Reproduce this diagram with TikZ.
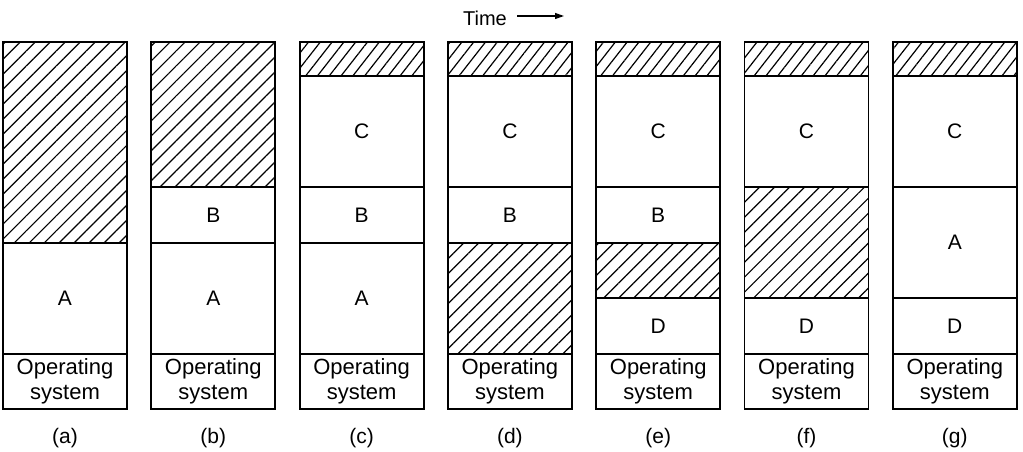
\documentclass[tikz,border=0pt]{standalone}
\usepackage{fontspec}
\setmainfont{Liberation Sans}
\usetikzlibrary{patterns.meta,arrows.meta}
\begin{document}
\begin{tikzpicture}[x=1pt,y=-1pt,
  seg/.style={draw, line width=1.8pt, minimum width=124pt, anchor=north west,
    inner sep=0pt, outer sep=0pt, font=\fontsize{21}{25}\selectfont, align=center},
  os/.style={seg, font=\fontsize{22}{25}\selectfont},
  free/.style={seg, pattern={Lines[angle=45,distance=10.6pt,line width=1.2pt]}, pattern color=black},
  freetop/.style={seg, pattern={Lines[angle=52,distance=9.3pt,line width=1.2pt]}, pattern color=black},
  lbl/.style={font=\fontsize{21}{25}\selectfont, inner sep=0pt},
  timearrow/.style={line width=1.2pt, -{Triangle[length=9pt,width=6pt]}}]
\useasboundingbox (0,0) rectangle (1023,452);
\foreach \n/\col/\t/\b/\k/\txt in {
  a1/0/42/243/free/{}, a2/0/243/354/seg/A, a3/0/354/409/os/{Operating\\system},
  b1/1/42/187/free/{}, b2/1/187/243/seg/B, b3/1/243/354/seg/A, b4/1/354/409/os/{Operating\\system},
  c1/2/42/76/freetop/{}, c2/2/76/187/seg/C, c3/2/187/243/seg/B, c4/2/243/354/seg/A, c5/2/354/409/os/{Operating\\system},
  d1/3/42/76/freetop/{}, d2/3/76/187/seg/C, d3/3/187/243/seg/B, d4/3/243/354/free/{}, d5/3/354/409/os/{Operating\\system},
  e1/4/42/76/freetop/{}, e2/4/76/187/seg/C, e3/4/187/243/seg/B, e4/4/243/298/free/{}, e5/4/298/354/seg/D, e6/4/354/409/os/{Operating\\system},
  f1/5/42/76/freetop/{}, f2/5/76/187/seg/C, f3/5/187/298/free/{}, f4/5/298/354/seg/D, f5/5/354/409/os/{Operating\\system},
  g1/6/42/76/freetop/{}, g2/6/76/187/seg/C, g3/6/187/298/seg/A, g4/6/298/354/seg/D, g5/6/354/409/os/{Operating\\system}}
{
  \node[\k, minimum height={\b pt-\t pt}] (\n) at ({3+\col*148.3}, \t) {\txt};
}
\foreach \c/\i in {a/0,b/1,c/2,d/3,e/4,f/5,g/6}{
  \node[lbl] (lab\c) at ({65+\i*148.3}, 438) {(\c)};
}
\node[lbl, font=\fontsize{20}{24}\selectfont] (time) at (485, 18) {Time};
\coordinate (tend) at (564, 16);
\draw[timearrow] ([xshift=10pt]time.east |- tend) -- (tend);
\end{tikzpicture}
\end{document}
